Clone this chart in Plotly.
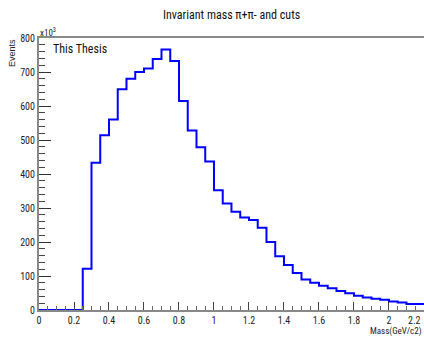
import plotly.graph_objects as go
import numpy as np

# ---- data ----
bin_width = 0.05
x_min = 0.0
counts = [0, 0, 0, 0, 0, 121, 433, 514, 560, 649, 680, 700, 710, 738, 766, 732,
          615, 528, 479, 437, 352, 313, 289, 272, 265, 242, 200, 158, 132, 109,
          90, 80, 71, 64, 56, 49, 42, 37, 33, 30, 25, 22, 18, 18]
title_text = "Invariant mass \u03c0+\u03c0- and cuts"
x_title = "Mass(GeV/c2)"
y_title = "Events"
x_tickvals = [0, 0.2, 0.4, 0.6, 0.8, 1.0, 1.2, 1.4, 1.6, 1.8, 2.0, 2.2]
x_ticktext = ["0", "0.2", "0.4", "0.6", "0.8", "1", "1.2", "1.4", "1.6", "1.8", "2", "2.2"]
y_tickvals = [0, 100, 200, 300, 400, 500, 600, 700, 800]

edges = x_min + bin_width * np.arange(len(counts) + 1)
ys = list(counts) + [counts[-1]]

W, H = 424, 338
L, R, T, B = 39, 0, 38, 28
pw, ph = W - L - R, H - T - B

def px(x):
    return (x - L) / pw

def py(y):
    return (H - B - y) / ph

narrow = "Liberation Sans Narrow, Roboto Condensed, Arial Narrow, Liberation Sans, sans-serif"

fig = go.Figure()
fig.add_trace(go.Scatter(x=edges, y=ys, mode="lines", line=dict(shape="hv", color="#0000ff", width=2),
                         showlegend=False, hoverinfo="skip"))

fig.update_layout(
    width=W, height=H,
    margin=dict(l=L, r=R, t=T, b=B),
    paper_bgcolor="white", plot_bgcolor="white",
    font=dict(family=narrow, size=10, color="#222"),
    xaxis=dict(range=[0, 2.2002], showgrid=False, zeroline=False, showline=True, linecolor="#888", linewidth=2,
               mirror=True, ticks="inside", ticklen=8, tickcolor="#444", tickwidth=1,
               tickvals=x_tickvals, ticktext=x_ticktext, tickfont=dict(family=narrow, size=10, color="#222"),
               minor=dict(ticks="inside", ticklen=4, dtick=0.05, tickcolor="#666", tickwidth=1)),
    yaxis=dict(range=[0, 800], showgrid=False, zeroline=False, showline=True, linecolor="#888", linewidth=2,
               mirror=False, ticks="inside", ticklen=12, tickcolor="#333", tickwidth=1,
               tickvals=y_tickvals, tickfont=dict(family=narrow, size=10, color="#222"),
               minor=dict(ticks="inside", ticklen=6, dtick=20, tickcolor="#444", tickwidth=1)),
)

ann = [
    dict(text=title_text, x=px(231), y=py(15), font=dict(family=narrow, size=12, color="#111")),
    dict(text=y_title, x=px(12), y=py(37), textangle=-90, yanchor="top", xanchor="center",
         font=dict(family="Liberation Sans, Arial, sans-serif", size=9, color="#222")),
    dict(text="x10<sup>3</sup>", x=px(38), y=py(32), xanchor="left",
         font=dict(family=narrow, size=9, color="#222")),
    dict(text="This Thesis", x=px(51), y=py(49), xanchor="left",
         font=dict(family=narrow, size=12, color="#111")),
    dict(text=x_title, x=px(424), y=py(331), xanchor="right",
         font=dict(family=narrow, size=9, color="#222")),
]
for a in ann:
    a.setdefault("xanchor", "center")
    a.setdefault("yanchor", "middle")
    fig.add_annotation(xref="paper", yref="paper", showarrow=False, **a)

# last tick label, kept inside the picture edge
fig.add_annotation(xref="x", yref="paper", x=x_tickvals[-1], y=py(320), text=x_ticktext[-1],
                   showarrow=False, xanchor="right", yanchor="middle", xshift=-1,
                   font=dict(family=narrow, size=10, color="#222"))

fig.write_html("out.html")
